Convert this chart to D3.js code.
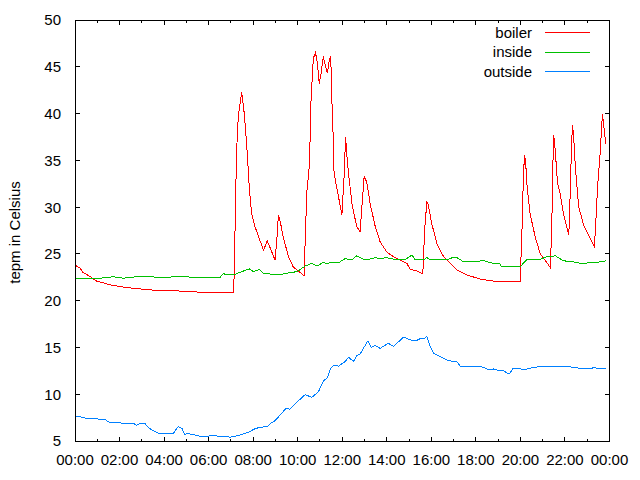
<!DOCTYPE html>
<html lang="en">
<head>
<meta charset="utf-8">
<title>Temperatures</title>
<script src="https://d3js.org/d3.v7.min.js"></script>
<style>
  body { margin: 0; background: #fff; }
  svg { font-family: "Liberation Sans", Arial, sans-serif; }
</style>
</head>
<body>
<script>
// minutes since midnight, values in Celsius
var boilerTime = [0,13,22,40,58,94,139,202,301,355,427,430,432,436,440,449,456,463,470,476,485,497,508,518,539,544,548,553,561,575,588,615,618,620,625,632,635,639,642,648,653,658,663,669,675,680,685,689,692,695,698,710,719,725,729,732,737,746,759,768,773,779,786,795,809,822,840,858,876,894,903,921,937,942,948,952,961,975,993,1011,1029,1056,1092,1127,1199,1204,1208,1211,1214,1218,1226,1240,1253,1276,1280,1283,1286,1289,1292,1295,1300,1307,1316,1325,1330,1332,1336,1340,1343,1348,1357,1370,1384,1399,1402,1408,1415,1420,1421,1426,1430];
var boilerTemp = [23.8,23.5,23.0,22.6,22.1,21.7,21.4,21.15,21.0,20.85,20.85,24.0,30.2,36.5,39.8,42.3,40.0,36.45,31.8,29.3,27.9,26.56,25.4,26.4,24.35,26.66,29.15,28.44,26.84,24.7,23.6,22.74,22.7,26.5,31.8,34.7,40.7,43.75,45.9,46.5,45.4,43.2,44.3,46.1,45.0,44.3,45.7,46.1,41.45,38.2,33.6,31.1,29.15,33.3,37.5,35.75,33.6,30.4,27.9,27.4,30.05,33.25,32.7,30.4,27.9,26.3,25.2,24.7,24.35,24.0,23.35,23.2,22.85,27.55,30.6,30.2,28.25,26.1,24.7,24.0,23.3,22.75,22.3,22.1,22.0,27.2,33.25,35.55,34.85,32.2,29.3,26.8,25.05,23.8,23.55,26.1,30.75,37.7,37.0,35.4,32.55,31.5,29.3,27.9,27.0,28.4,34.3,38.8,37.9,34.3,30.05,28.1,27.0,25.77,27.55,32.2,35.9,39.3,40.0,38.2,36.8];

var insideTime = [0,67,103,130,175,229,283,337,391,400,409,427,449,470,481,497,508,526,561,580,598,620,638,652,669,678,692,710,728,746,759,777,795,809,822,840,867,889,908,916,939,948,957,1002,1020,1029,1047,1074,1101,1110,1127,1144,1150,1199,1208,1218,1253,1267,1294,1298,1312,1325,1343,1361,1397,1430];
var insideTemp = [22.4,22.4,22.55,22.4,22.6,22.5,22.55,22.5,22.5,22.9,22.75,22.75,23.1,23.4,23.1,23.35,22.9,22.85,22.85,23.0,23.1,23.7,24.0,23.7,24.1,23.95,24.1,24.05,24.5,24.35,24.8,24.45,24.45,24.6,24.5,24.6,24.35,24.35,24.9,24.35,24.35,24.6,24.35,24.35,24.65,24.6,24.15,24.15,24.3,24.15,24.0,23.95,23.6,23.6,24.0,24.4,24.4,24.65,24.8,24.7,24.35,24.2,24.15,24.0,24.05,24.25];

var outsideTime = [0,13,32,58,67,81,92,121,126,157,166,175,189,198,211,227,265,278,288,296,305,328,337,359,368,391,400,409,418,431,440,458,472,481,497,517,530,539,553,569,578,593,606,620,638,656,669,680,689,698,710,728,737,750,759,768,789,798,809,822,844,858,885,908,921,930,941,948,957,966,975,988,1006,1029,1038,1092,1101,1114,1127,1141,1154,1168,1172,1180,1213,1235,1253,1352,1357,1393,1397,1406,1430];
var outsideTemp = [7.7,7.6,7.4,7.4,7.3,7.3,7.0,7.0,6.9,6.9,6.67,6.9,6.85,6.4,6.1,5.8,5.8,6.55,6.35,5.7,5.8,5.6,5.5,5.5,5.6,5.5,5.43,5.5,5.4,5.5,5.6,5.8,6.0,6.25,6.46,6.53,6.96,7.17,7.8,8.5,8.4,8.95,9.45,9.95,9.67,10.27,11.4,11.77,12.77,13.1,13.0,13.5,13.95,13.5,14.1,14.3,15.7,15.0,15.2,14.9,15.45,15.1,16.1,15.75,15.75,15.95,15.95,16.2,15.1,14.4,14.2,13.95,13.6,13.45,13.0,13.0,12.85,12.65,12.7,12.55,12.5,12.2,12.25,12.77,12.65,12.85,12.95,12.9,12.77,12.77,12.87,12.77,12.77];

var seriesNames = ["boiler", "inside", "outside"];
var seriesColors = ["#ff0000", "#00c000", "#0080ff"];
var yTicks = [5, 10, 15, 20, 25, 30, 35, 40, 45, 50];
var xTickLabels = ["00:00","02:00","04:00","06:00","08:00","10:00","12:00","14:00","16:00","18:00","20:00","22:00","00:00"];

var width = 640, height = 480;
var margin = {left: 75, right: 30.5, top: 20, bottom: 39};
var x0 = margin.left, x1 = width - margin.right;
var y0 = height - margin.bottom, y1 = margin.top;
var fontSize = 15;

var x = d3.scaleLinear().domain([0, 1440]).range([x0, x1]);
var y = d3.scaleLinear().domain([5, 50]).range([y0, y1]);

var svg = d3.select("body").append("svg")
    .attr("width", width)
    .attr("height", height);

// ticks (inward, mirrored on all four sides)
var tickG = svg.append("g")
    .attr("stroke", "#000")
    .attr("stroke-width", 1)
    .attr("shape-rendering", "crispEdges");

yTicks.forEach(function(v) {
    tickG.append("line").attr("x1", x0).attr("x2", x0 + 5).attr("y1", y(v)).attr("y2", y(v));
    tickG.append("line").attr("x1", x1).attr("x2", x1 - 5).attr("y1", y(v)).attr("y2", y(v));
});

d3.range(0, 1441, 60).forEach(function(m) {
    var len = (m % 120 === 0) ? 4.5 : 2.5;
    tickG.append("line").attr("x1", x(m)).attr("x2", x(m)).attr("y1", y0).attr("y2", y0 - len);
    tickG.append("line").attr("x1", x(m)).attr("x2", x(m)).attr("y1", y1).attr("y2", y1 + len);
});

// tick labels
svg.append("g").selectAll("text")
    .data(yTicks)
    .enter().append("text")
    .attr("x", 61)
    .attr("y", function(d) { return y(d); })
    .attr("dy", "0.36em")
    .attr("text-anchor", "end")
    .attr("font-size", fontSize)
    .attr("fill", "#000")
    .text(function(d) { return d; });

svg.append("g").selectAll("text")
    .data(xTickLabels)
    .enter().append("text")
    .attr("x", function(d, i) { return x(i * 120); })
    .attr("y", 464.5)
    .attr("text-anchor", "middle")
    .attr("font-size", fontSize)
    .attr("fill", "#000")
    .text(function(d) { return d; });

svg.append("text")
    .attr("transform", "translate(19.5," + ((y0 + y1) / 2 + 2) + ") rotate(-90)")
    .attr("text-anchor", "middle")
    .attr("font-size", fontSize)
    .attr("fill", "#000")
    .text("tepm in Celsius");

// data lines
var series = [
    {time: boilerTime, temp: boilerTemp},
    {time: insideTime, temp: insideTemp},
    {time: outsideTime, temp: outsideTemp}
];

var line = d3.line()
    .x(function(d) { return x(d[0]); })
    .y(function(d) { return y(d[1]); });

series.forEach(function(s, i) {
    var pts = s.time.map(function(t, j) { return [t, s.temp[j]]; });
    svg.append("path")
        .attr("d", line(pts))
        .attr("fill", "none")
        .attr("stroke", seriesColors[i])
        .attr("stroke-width", 1)
        .attr("shape-rendering", "crispEdges");
});

// legend
seriesNames.forEach(function(name, i) {
    var ly = 32.5 + i * 19.5;
    svg.append("text")
        .attr("x", 532)
        .attr("y", ly)
        .attr("dy", "0.36em")
        .attr("text-anchor", "end")
        .attr("font-size", fontSize)
        .attr("fill", "#000")
        .text(name);
    svg.append("line")
        .attr("x1", 545).attr("x2", 590)
        .attr("y1", ly).attr("y2", ly)
        .attr("stroke", seriesColors[i])
        .attr("shape-rendering", "crispEdges");
});

// border
svg.append("rect")
    .attr("x", x0).attr("y", y1)
    .attr("width", x1 - x0).attr("height", y0 - y1)
    .attr("fill", "none")
    .attr("stroke", "#000")
    .attr("shape-rendering", "crispEdges");
</script>
</body>
</html>
